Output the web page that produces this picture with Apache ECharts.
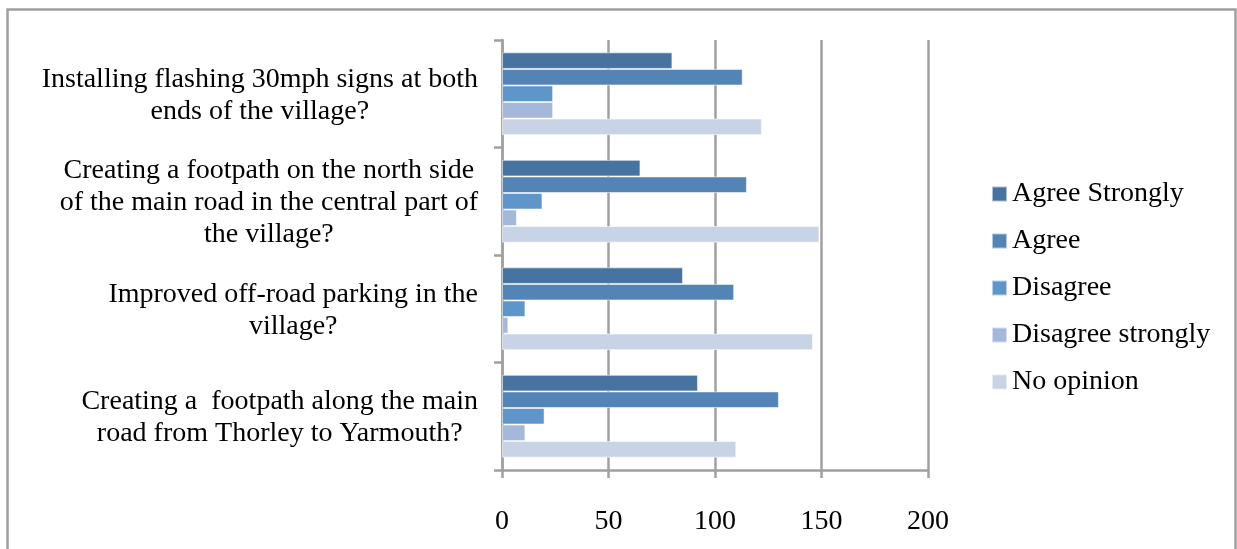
<!DOCTYPE html>
<html>
<head>
<meta charset="utf-8">
<script src="https://cdn.jsdelivr.net/npm/echarts@6/dist/echarts.min.js"></script>
<style>
html,body{margin:0;padding:0;background:#fff;}
#chart{width:1237px;height:549px;}
</style>
</head>
<body>
<div id="chart"></div>
<script>
const categories = [
  "Installing flashing 30mph signs at both\nends of the village?",
  "Creating a footpath on the north side\nof the main road in the central part of\nthe village?",
  "Improved off-road parking in the\nvillage?",
  "Creating a  footpath along the main\nroad from Thorley to Yarmouth?"
];
const seriesNames = ["Agree Strongly", "Agree", "Disagree", "Disagree strongly", "No opinion"];
const agreeStrongly = [80, 65, 85, 92];
const agree = [113, 115, 109, 130];
const disagree = [24, 19, 11, 20];
const disagreeStrongly = [24, 7, 3, 11];
const noOpinion = [122, 149, 146, 110];
const xTicks = [0, 50, 100, 150, 200];

const colors = ["#4673A0", "#5384B6", "#5E96CA", "#A4B8DA", "#C8D3E6"];
const values = [agreeStrongly, agree, disagree, disagreeStrongly, noOpinion];
const FONT = "'Liberation Serif', serif";
const FS = 28;
const gray = "#A0A0A0";

const chart = echarts.init(document.getElementById('chart'), null, {renderer: 'canvas'});
chart.setOption({
  animation: false,
  backgroundColor: '#fff',
  textStyle: {fontFamily: FONT},
  graphic: [{
    type: 'rect',
    shape: {x: 7.5, y: 9.5, width: 1228, height: 700},
    style: {fill: 'none', stroke: gray, lineWidth: 2.5},
    silent: true
  }],
  grid: {left: 502, right: 309, top: 40, bottom: 79, containLabel: false},
  legend: {
    orient: 'vertical',
    left: 986,
    top: 174,
    itemWidth: 15,
    itemHeight: 15,
    itemGap: 17,
    icon: 'rect',
    data: seriesNames,
    textStyle: {fontFamily: FONT, fontSize: FS, color: '#000', lineHeight: 30}
  },
  xAxis: {
    type: 'value',
    min: xTicks[0],
    max: xTicks[xTicks.length - 1],
    interval: 50,
    axisLine: {show: true, lineStyle: {color: gray, width: 2.5}},
    axisTick: {show: true, length: 8, lineStyle: {color: gray, width: 2.5}},
    splitLine: {show: true, lineStyle: {color: gray, width: 2.5}},
    axisLabel: {fontFamily: FONT, fontSize: FS, color: '#000', margin: 38}
  },
  yAxis: {
    type: 'category',
    inverse: true,
    data: categories,
    axisLine: {show: true, lineStyle: {color: gray, width: 2.5}},
    axisTick: {show: true, length: 8, lineStyle: {color: gray, width: 2.5}},
    axisLabel: {
      margin: 24,
      align: 'right',
      padding: [3, 0, 0, 0],
      formatter: function (v) {
        return v.split('\n').map(function (s) { return '{c|' + s + '}'; }).join('\n');
      },
      rich: {
        c: {align: 'center', fontFamily: FONT, fontSize: FS, color: '#000', lineHeight: 32}
      }
    }
  },
  series: seriesNames.map(function (name, i) {
    return {
      name: name,
      type: 'bar',
      data: values[i],
      barGap: '0%',
      barCategoryGap: '23%',
      itemStyle: {color: colors[i], borderColor: 'rgba(255,255,255,0.55)', borderWidth: 1}
    };
  })
});
</script>
</body>
</html>
